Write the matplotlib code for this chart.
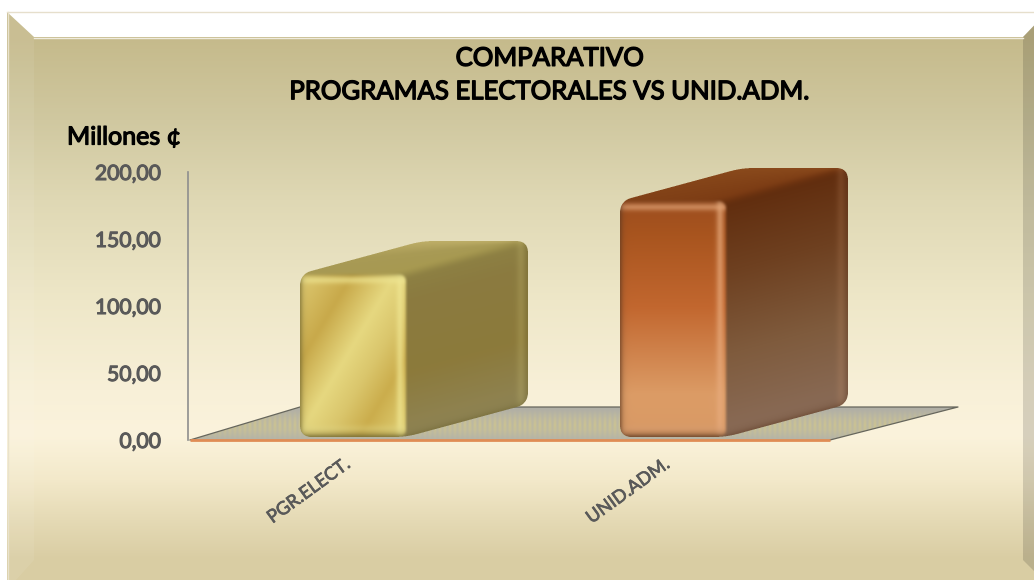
import numpy as np
import matplotlib
matplotlib.use("Agg")
import matplotlib.pyplot as plt
import matplotlib.patheffects as pe
from matplotlib.colors import to_rgb
from matplotlib.path import Path
from matplotlib.patches import Polygon
from matplotlib.transforms import ScaledTranslation

categories = ["PGR.ELECT.", "UNID.ADM."]
values = [124.0, 178.0]
y_ticks = [0, 50, 100, 150, 200]
y_labels = ["0,00", "50,00", "100,00", "150,00", "200,00"]
title_text = "COMPARATIVO\nPROGRAMAS ELECTORALES VS UNID.ADM."
unit_text = "Millones ¢"

W, H = 1034, 580
plt.rcParams["font.family"] = ["Lato", "DejaVu Sans"]
fig = plt.figure(figsize=(W / 100, H / 100), dpi=100, facecolor="white")


def faux_bold(color, lw):
    return [pe.withStroke(linewidth=lw, foreground=color)]


def stops_interp(t, stops):
    pos = [s[0] for s in stops]
    cols = np.array([to_rgb(s[1]) for s in stops])
    return np.stack([np.interp(t, pos, cols[:, i]) for i in range(3)], axis=-1)


def rounded(corners, r):
    verts = []
    n = len(corners)
    pts = [np.array(c, float) for c in corners]
    for i in range(n):
        p, a, b = pts[i], pts[i - 1], pts[(i + 1) % n]
        d1 = (a - p) / np.linalg.norm(a - p)
        d2 = (b - p) / np.linalg.norm(b - p)
        s0, s1 = p + d1 * r, p + d2 * r
        for t in np.linspace(0, 1, 9):
            verts.append((1 - t) ** 2 * s0 + 2 * t * (1 - t) * p + t ** 2 * s1)
    return Path(np.array(verts + [verts[0]]), closed=True)


def mask_of(path, w, h, ss=3):
    gx = (np.arange(w * ss) + 0.5) / ss
    gy = (np.arange(h * ss) + 0.5) / ss
    XX, YY = np.meshgrid(gx, gy)
    m = path.contains_points(np.c_[XX.ravel(), YY.ravel()]).reshape(XX.shape)
    return m.reshape(h, ss, w, ss).mean(axis=(1, 3))


def soften(a):
    kernel = np.array([1, 2, 3, 2, 1], float)
    kernel /= kernel.sum()
    pad = np.pad(a, ((2, 2), (2, 2), (0, 0)), mode="edge")
    pad = np.apply_along_axis(lambda v: np.convolve(v, kernel, mode="same"), 0, pad)
    pad = np.apply_along_axis(lambda v: np.convolve(v, kernel, mode="same"), 1, pad)
    return pad[2:-2, 2:-2]


def mix(c, col, a):
    return c * (1 - a[..., None]) + np.array(to_rgb(col)) * a[..., None]


# ---- panel background -------------------------------------------------
bg = fig.add_axes([0, 0, 1, 1], zorder=0)
bg.set_xlim(0, W)
bg.set_ylim(H, 0)
bg.axis("off")
yy = np.linspace(0, H, H)
bg_stops = [(37, "#C5BA8B"), (120, "#D0C8A0"), (200, "#DFD8B4"), (300, "#EEE7C8"),
            (390, "#F8F0D8"), (435, "#FBF3DC"), (480, "#F3E9CA"), (520, "#E5DAB5"), (560, "#D9CDA3")]
img = stops_interp(yy, bg_stops)[:, None, :]
panel = Polygon([(7, 12), (1060, 12), (1060, 600), (7, 600)], closed=True, transform=bg.transData,
                fc="none", ec="none")
bg.add_patch(panel)
im = bg.imshow(img, extent=(0, W, H, 0), aspect="auto", zorder=1)
im.set_clip_path(panel)
bg.add_patch(Polygon([(7, 12), (1047, 12), (1023, 37), (34, 37)], fc="white", ec="none", zorder=3))
bg.plot([7, 1034], [12, 12], color="#E6DFCC", lw=1, zorder=4)
bg.plot([34, 1023], [37.5, 37.5], color="#EFEBDD", lw=1, zorder=4)
bg.add_patch(Polygon([(1023, 37), (1047, 12), (1047, 584), (1023, 560)], fc="#000000", alpha=0.14, ec="none", zorder=3))
bg.add_patch(Polygon([(7, 12), (34, 37), (34, 560), (7, 590)], fc="#FFFFFF", alpha=0.07, ec="none", zorder=3))
bg.plot([7.5, 7.5], [12, 580], color="#E9E2CC", lw=1, zorder=4)

# ---- chart axes -------------------------------------------------------
X0, X1, Y0, Y1 = 188, 832, 440, 172
PX_PER_CAT = 319.5
CENTER0 = 353
ax = fig.add_axes([X0 / W, 1 - Y0 / H, (X1 - X0) / W, (Y0 - Y1) / H], zorder=2)
ax.patch.set_alpha(0)
ax.set_xlim((X0 - CENTER0) / PX_PER_CAT, (X1 - CENTER0) / PX_PER_CAT)
ax.set_ylim(0, 200)
sy = (Y0 - Y1) / 200.0
sx = PX_PER_CAT
DX, DY = 122, 33
BAR_W = 106 / sx
BASE = 3 / sy

for s in ("top", "right", "bottom"):
    ax.spines[s].set_visible(False)
ax.spines["left"].set_color("#8E8E8E")
ax.spines["left"].set_linewidth(1.2)
ax.set_yticks(y_ticks)
ax.set_yticklabels(y_labels, fontsize=15.2, color="#595959")
ax.tick_params(axis="y", length=0, pad=19.5)
idx = np.arange(len(categories))
ax.set_xticks(idx)
ax.set_xticklabels(categories, fontsize=13.1, color="#595959", rotation=36, ha="right",
                   rotation_mode="anchor")
ax.tick_params(axis="x", length=0, pad=14)
shift = ScaledTranslation(-10 / 100, 3 / 100, fig.dpi_scale_trans)
for t in ax.get_yticklabels():
    t.set_path_effects(faux_bold("#595959", 0.8))
for t in ax.get_xticklabels():
    t.set_path_effects(faux_bold("#595959", 0.5))
    t.set_transform(t.get_transform() + shift)

# floor
xl = (190 - CENTER0) / sx
xr = (830 - CENTER0) / sx
FL_W, FL_DX_R, FL_DX_L, FL_D = 640, 128, 110, 33
fx = [xl, xr, xr + FL_DX_R / sx, xl + FL_DX_L / sx]
fy = [0, 0, FL_D / sy, FL_D / sy]
fl_w = FL_W + FL_DX_R
fl_path = Path(np.array([(0, 0), (FL_W, 0), (fl_w, FL_D), (FL_DX_L, FL_D), (0, 0)], float), closed=True)
GX, GY = np.meshgrid(np.arange(fl_w) + 0.5, np.arange(FL_D) + 0.5)
fl_col = stops_interp(GY, [(0, "#B4B3A8"), (10, "#BEBAA0"), (20, "#BCB8A2"), (33, "#AFAEA6")])
stripe = (0.5 + 0.5 * np.cos(GX * 2 * np.pi / 5)) * np.clip(1 - np.abs(GY - 15) / 15, 0, 1)
fl_col = mix(fl_col, "#D6CA86", 0.55 * stripe)
ax.imshow(np.dstack([fl_col, mask_of(fl_path, fl_w, FL_D)]), origin="lower",
          extent=(xl, xl + fl_w / sx, 0, FL_D / sy), aspect="auto", zorder=1, clip_on=False,
          interpolation="bilinear")
ax.plot([fx[0], fx[3], fx[2], fx[1]], [fy[0], fy[3], fy[2], fy[1]], color="#66665C", lw=0.9, zorder=1.2, clip_on=False)
ax.plot([xl, xr], [0, 0], color="#E08C55", lw=2, zorder=1.3, clip_on=False, solid_capstyle="butt")

STYLES = [
    dict(
        front=lambda x, yd, w, h: stops_interp((x + 0.6 * yd) / (w + 0.6 * h),
                                               [(0, "#E0CC74"), (0.26, "#C8A94A"), (0.47, "#E6D880"),
                                                (0.62, "#DAC66C"), (0.77, "#CBAD4C"), (1, "#E2D378")]),
        side=[(0, "#8F8455"), (0.4, "#8C7A3B"), (0.85, "#8B7B40"), (1, "#8E8144")],
        top=[(0, "#A89A50"), (0.6, "#A89A55"), (1, "#BFAF68")],
        edge="#6F6530", hi="#F1E894",
    ),
    dict(
        front=lambda x, yd, w, h: stops_interp(1 - yd / h,
                                               [(0, "#D99A66"), (0.18, "#DC9C66"), (0.55, "#C2672F"),
                                                (0.85, "#A9551F"), (1, "#9C4D1E")]),
        side=[(0, "#8A6C58"), (0.35, "#7F5B3D"), (0.7, "#6E4020"), (1, "#612D0E")],
        top=[(0, "#7A3A13"), (1, "#8A4A1C")],
        edge="#5E3A22", hi="#E8AC7E",
    ),
]

bars = ax.bar(idx, values, width=BAR_W, color="none", edgecolor="none", bottom=0, zorder=2)

for rect, st in zip(bars, STYLES):
    x_left = rect.get_x()
    hgt_val = rect.get_height()
    w = int(round(rect.get_width() * sx))
    h = int(round((hgt_val - BASE) * sy))
    base_px = BASE * sy
    tw, th = w + DX, h + DY
    corners = [(0, 0), (w, 0), (w + DX, DY), (w + DX, h + DY), (DX, h + DY), (0, h)]
    sil = rounded(corners, 12)
    XX, YY = np.meshgrid(np.arange(tw) + 0.5, np.arange(th) + 0.5)
    skew_y = YY - np.clip(XX - w, 0, None) * DY / DX
    side = stops_interp(np.clip(skew_y / h, 0, 1), st["side"])
    yline = h + (XX - w) * DY / DX
    top = stops_interp(np.clip((YY - yline) / (th - yline + 1e-6), 0, 1), st["top"])
    k = np.clip((YY - yline + 6) / 12, 0, 1)
    k = k * k * (3 - 2 * k)
    col = side * (1 - k[..., None]) + top * k[..., None]
    dr = (w + DX) - XX
    col = mix(col, st["edge"], 0.45 * np.exp(-dr / 3))
    col = mix(col, st["hi"], 0.15 * np.exp(-((dr - 7) / 4) ** 2))
    col = mix(col, st["edge"], 0.55 * np.exp(-np.clip(skew_y, 0, None) / 3.5))

    fx_, fy_ = np.meshgrid(np.arange(w) + 0.5, np.arange(h) + 0.5)
    yd = h - fy_
    c = st["front"](fx_, yd, w, h)
    c = mix(c, st["hi"], 0.7 * np.exp(-((w - fx_ - 6) / 3.5) ** 2))
    c = mix(c, st["hi"], 0.65 * np.exp(-((yd - 6) / 3.5) ** 2))
    c = mix(c, st["hi"], 0.3 * np.exp(-((fy_ - 8) / 4) ** 2))
    c = mix(c, st["edge"], 0.85 * np.exp(-fx_ / 2.2))
    c = mix(c, st["edge"], 0.95 * np.exp(-fy_ / 3.2))
    c = mix(c, st["edge"], 0.5 * np.exp(-yd / 2.0))
    fm = mask_of(rounded([(0, 0), (w, 0), (w, h), (0, h)], 8), w, h)[..., None]
    col[:h, :w] = col[:h, :w] * (1 - fm) + c * fm
    col = soften(col)
    rgba = np.dstack([np.clip(col, 0, 1), mask_of(sil, tw, th)])
    ext = (x_left, x_left + tw / sx, base_px / sy, (base_px + th) / sy)
    ax.imshow(rgba, origin="lower", extent=ext, aspect="auto", zorder=3, clip_on=False,
              interpolation="bilinear")

ax.set_xlim((X0 - CENTER0) / PX_PER_CAT, (X1 - CENTER0) / PX_PER_CAT)
ax.set_ylim(0, 200)

# ---- text -------------------------------------------------------------
t1 = fig.text(550 / W, 1 - 75 / H, title_text, ha="center", va="center", fontsize=18.5,
              color="#000000", linespacing=1.42, zorder=5)
t1.set_path_effects(faux_bold("#000000", 1.0))
t2 = fig.text(67 / W, 1 - 137 / H, unit_text, ha="left", va="center", fontsize=18,
              color="#000000", zorder=5)
t2.set_path_effects(faux_bold("#000000", 0.9))

fig.savefig("out.png", dpi=100, facecolor="white")
